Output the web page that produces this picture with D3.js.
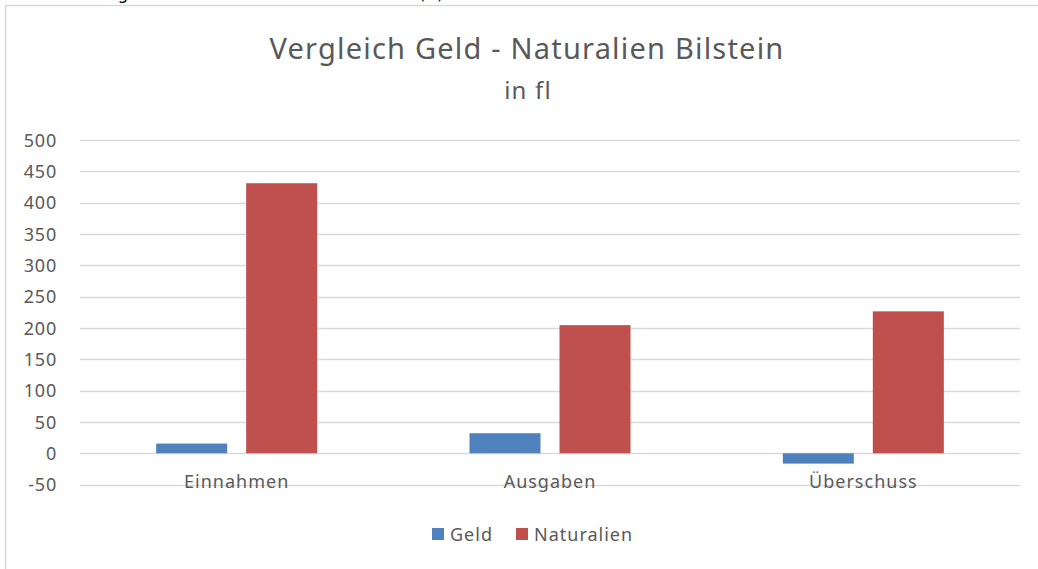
<!DOCTYPE html>
<html><head><meta charset="utf-8">
<script src="https://cdn.jsdelivr.net/npm/d3@7"></script>
<style>body{margin:0;background:#fff;} svg{display:block;}</style>
</head><body>
<svg id="c" width="1038" height="569"></svg>
<script>
const categories = ["Einnahmen", "Ausgaben", "Überschuss"];
const seriesNames = ["Geld", "Naturalien"];
const geld = [15.5, 32, -16.5];
const naturalien = [431, 204.5, 226.5];
const yTicks = [-50, 0, 50, 100, 150, 200, 250, 300, 350, 400, 450, 500];
const colors = ["#4F81BD", "#C0504D"];

const svg = d3.select("#c");
const font = "Noto Sans, sans-serif";
const txt = "#595959";

// clipped caption above the chart (only its lower edge is visible)
svg.append("text").attr("x", 2).attr("y", -1).attr("font-family", font).attr("font-size", 16)
  .attr("letter-spacing", 1.2).attr("fill", "#000").text("Tabelle 4: Vergleich Geld - und Naturalienlasten (fl)");

// chart frame
svg.append("rect").attr("x", 5.5).attr("y", 5.5).attr("width", 1040).attr("height", 580)
  .attr("fill", "#fff").attr("stroke", "#D9D9D9").attr("stroke-width", 1.5);

const x0 = d3.scaleBand().domain(categories).range([80, 1020]).paddingInner(0).paddingOuter(0);
const y = d3.scaleLinear().domain([-50, 500]).range([484.6, 140]);

// gridlines
svg.append("g").selectAll("line").data(yTicks).join("line")
  .attr("x1", 80).attr("x2", 1020).attr("y1", d => Math.round(y(d)) + 0.5).attr("y2", d => Math.round(y(d)) + 0.5)
  .attr("stroke", "#D9D9D9").attr("stroke-width", 1.3);

// y axis labels
const yAxis = d3.axisLeft(y).tickValues(yTicks).tickSize(0).tickPadding(0).tickFormat(d => String(d));
const ga = svg.append("g").attr("transform", "translate(57,0)").call(yAxis);
ga.select(".domain").remove();
ga.selectAll("text").attr("font-family", font).attr("font-size", 18).attr("letter-spacing", 0.8)
  .attr("fill", txt).attr("dy", "0.35em");

// bars
const bw = 71, gap = 19;
const data = [geld, naturalien];
data.forEach((vals, si) => {
  svg.append("g").selectAll("rect").data(vals).join("rect")
    .attr("x", (d, i) => x0(categories[i]) + x0.bandwidth() / 2 - (bw * 2 + gap) / 2 + si * (bw + gap))
    .attr("width", bw)
    .attr("y", d => y(Math.max(0, d)))
    .attr("height", d => Math.abs(y(d) - y(0)))
    .attr("fill", colors[si]);
});

// category labels
const xAxis = d3.axisBottom(x0).tickSize(0).tickPadding(0);
const gx = svg.append("g").attr("transform", "translate(0,475)").call(xAxis);
gx.select(".domain").remove();
gx.selectAll("text").attr("font-family", font).attr("font-size", 18).attr("letter-spacing", 1)
  .attr("fill", txt).attr("dy", "0.71em");

// title
svg.append("text").attr("x", 527).attr("y", 59).attr("text-anchor", "middle")
  .attr("font-family", font).attr("font-size", 29).attr("letter-spacing", 1.2).attr("fill", txt)
  .text("Vergleich Geld - Naturalien Bilstein");
svg.append("text").attr("x", 528).attr("y", 99).attr("text-anchor", "middle")
  .attr("font-family", font).attr("font-size", 24).attr("letter-spacing", 1.2).attr("fill", txt).text("in fl");

// legend
const legX = [432, 516];
seriesNames.forEach((n, i) => {
  svg.append("rect").attr("x", legX[i]).attr("y", 528).attr("width", 12).attr("height", 12).attr("fill", colors[i]);
  svg.append("text").attr("x", legX[i] + 18).attr("y", 541).attr("font-family", font).attr("font-size", 18)
    .attr("letter-spacing", 1).attr("fill", txt).text(n);
});
</script>
</body></html>
